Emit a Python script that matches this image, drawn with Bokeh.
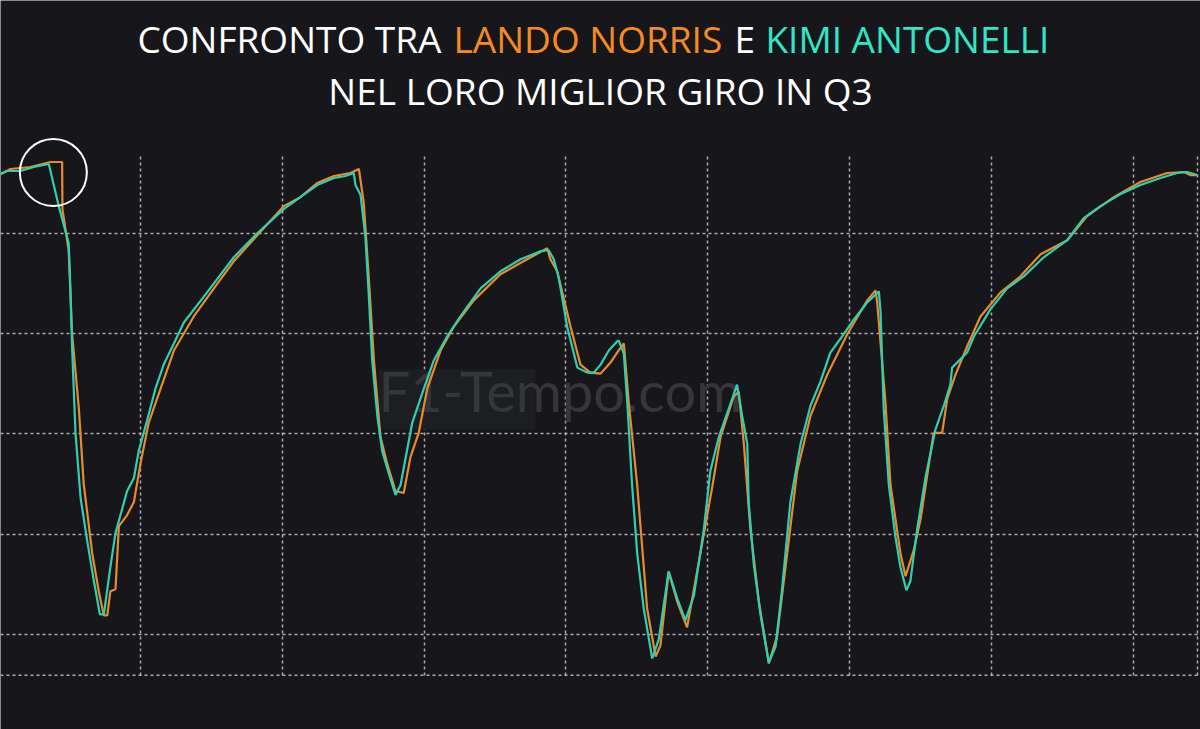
from bokeh.plotting import figure
from bokeh.models import Label, BoxAnnotation, Span, Range1d, FixedTicker
from bokeh.embed import file_html
from bokeh.resources import INLINE

# ---- data (distance in m, speed in km/h) ----
nor_dist = [7, 42, 112, 183, 224, 225, 247, 259, 283, 300, 330, 353, 371, 383, 394, 412, 424, 453, 477, 500,
            529, 571, 618, 688, 759, 829, 912, 1005, 1064, 1123, 1182, 1240, 1270, 1287, 1305, 1323, 1346, 1370,
            1399, 1428, 1452, 1481, 1511, 1558, 1605, 1675, 1769, 1863, 1934, 1945, 1969, 2016, 2051, 2086, 2122,
            2157, 2185, 2204, 2221, 2251, 2286, 2316, 2333, 2362, 2393, 2427, 2474, 2515, 2545, 2591, 2609, 2627,
            2650, 2680, 2715, 2744, 2780, 2815, 2862, 2921, 2991, 3062, 3091, 3097, 3126, 3144, 3179, 3197, 3226,
            3250, 3296, 3326, 3344, 3373, 3414, 3461, 3532, 3602, 3673, 3767, 3837, 3931, 4025, 4119, 4178, 4201, 4225]
nor_speed = [329.5, 332, 333, 335.5, 335.5, 312, 291.5, 250, 212.5, 175, 140.5, 121.5, 109.5, 109.5, 121.5, 122.5,
             154, 159.5, 166, 185, 205.5, 222.5, 241.5, 258.5, 272.5, 286, 299, 313.5, 318, 325, 328.5, 330, 332,
             315.5, 277.5, 236.5, 198.5, 185, 171.5, 170.5, 188.5, 200.5, 222.5, 241.5, 253.5, 266.5, 279.5, 287,
             292.5, 287, 281, 253.5, 234.5, 230.5, 230, 235.5, 241.5, 245, 216, 174.5, 113, 89, 94.5, 131, 116,
             103.5, 140.5, 173, 198.5, 218.5, 221, 195, 152.5, 116.5, 85.5, 99, 140.5, 181.5, 209, 229.5, 249.5,
             266.5, 271.5, 265.5, 216, 174.5, 140.5, 129, 142, 157.5, 200.5, 200.5, 217.5, 229.5, 243.5, 258.5,
             270.5, 278.5, 289.5, 296.5, 308.5, 318, 325.5, 330, 330.5, 329, 329]

ant_dist = [7, 30, 77, 124, 177, 212, 247, 253, 259, 271, 289, 312, 336, 357, 371, 394, 412, 453, 477, 494, 524,
            553, 582, 618, 653, 735, 829, 912, 1005, 1064, 1123, 1182, 1223, 1252, 1258, 1276, 1293, 1305, 1317,
            1335, 1352, 1376, 1399, 1417, 1458, 1499, 1534, 1581, 1628, 1699, 1769, 1840, 1910, 1939, 1957, 1975,
            2004, 2040, 2075, 2098, 2122, 2151, 2180, 2186, 2204, 2216, 2233, 2251, 2274, 2304, 2327, 2362, 2392,
            2421, 2451, 2486, 2509, 2539, 2574, 2603, 2621, 2639, 2644, 2662, 2686, 2715, 2739, 2762, 2791, 2827,
            2862, 2897, 2932, 2968, 3015, 3062, 3103, 3109, 3120, 3138, 3161, 3179, 3200, 3214, 3238, 3267, 3302,
            3332, 3355, 3361, 3414, 3438, 3496, 3555, 3614, 3684, 3767, 3825, 3884, 3955, 4025, 4096, 4154, 4190, 4225]
ant_speed = [329.5, 331, 331, 333, 334.5, 313.5, 295, 272.5, 243.5, 200.5, 168, 147, 126.5, 110, 110, 133.5,
             150.5, 171.5, 178, 191.5, 207, 222.5, 234.5, 245, 255.5, 270.5, 288, 300, 312, 318, 324, 327.5, 328.5,
             330, 324, 319, 298, 269, 236.5, 209, 191.5, 180, 169.5, 174.5, 205.5, 222.5, 236.5, 248.5, 258.5,
             272.5, 281, 287, 291, 291.5, 287, 277.5, 253.5, 233, 230.5, 230.5, 234.5, 241.5, 246, 246.5, 240, 216,
             174.5, 140.5, 113, 88, 97.5, 131.5, 118, 107, 119.5, 152.5, 181.5, 198.5, 212.5, 224.5, 209, 195, 166,
             135, 109.5, 86, 94, 123, 166, 195, 214, 226, 240.5, 247.5, 257, 265.5, 271, 260.5, 212.5, 174.5, 149,
             133.5, 122, 126.5, 152.5, 178, 202, 214, 224.5, 233, 240.5, 248.5, 262, 272.5, 278.5, 288, 296.5,
             307.5, 313.5, 319.5, 324, 327.5, 330, 330.5, 329]

highlight_dist = [193]
highlight_speed = [330.3]

# chart area (data units) and gridlines
speed_min, speed_max = 79.6, 339.8
dist_grid = [500, 1000, 1500, 2000, 2500, 3000, 3500, 4000, 4226]
speed_grid = [100, 150, 200, 250, 300]

title_parts = ["CONFRONTO TRA", "LANDO NORRIS", "E", "KIMI ANTONELLI"]
subtitle = "NEL LORO MIGLIOR GIRO IN Q3"
watermark = "F1-Tempo.com"

BG = "#17171b"
ORANGE_LINE = "#e98a2c"
TEAL_LINE = "#2fd0b1"
ORANGE_TXT = "#f58a22"
TEAL_TXT = "#2fe6c7"
GRID = "#c4c4c4"

p = figure(width=1200, height=729,
           x_range=Range1d(6.7, 4236.7), y_range=Range1d(52.6, 416.0),
           output_backend="svg", toolbar_location=None,
           background_fill_color=BG, border_fill_color=BG, outline_line_color=None,
           min_border=0)

p.xaxis.visible = False
p.yaxis.visible = False
p.xaxis.ticker = FixedTicker(ticks=dist_grid)
p.yaxis.ticker = FixedTicker(ticks=speed_grid)
for g in (p.xgrid, p.ygrid):
    g.grid_line_color = GRID
    g.grid_line_dash = "3 3"
    g.grid_line_width = 1.5
    g.grid_line_alpha = 0.85

fallback = False
try:
    p.xgrid.cross_bounds = (speed_min, speed_max)
except AttributeError:
    fallback = True
if fallback:
    p.xgrid.visible = False
    p.segment(x0=dist_grid, y0=[speed_min] * len(dist_grid), x1=dist_grid, y1=[speed_max] * len(dist_grid),
              line_color=GRID, line_dash="3 3", line_width=1.5, line_alpha=0.85)

p.add_layout(Span(location=speed_min, dimension="width", line_color=GRID,
                  line_dash="3 3", line_width=1.5, line_alpha=0.85))

# watermark
p.add_layout(BoxAnnotation(left=1339, right=1892, bottom=202.2, top=232.1,
                           fill_color="#1d1e22", fill_alpha=1.0, line_color=None, level="underlay"))
p.add_layout(Label(x=1339, y=221.5, text=watermark,
                   text_font="Lato", text_font_size="56px", text_color="#35363b",
                   text_baseline="alphabetic", level="underlay"))

p.line(nor_dist, nor_speed, line_color=ORANGE_LINE, line_width=2.2)
p.line(ant_dist, ant_speed, line_color=TEAL_LINE, line_width=2.2)

p.scatter(highlight_dist, highlight_speed, marker="circle", size=67,
          fill_color=None, line_color="white", line_width=2)

# title (two lines, coloured driver names)
tx = [489.6, 1603.5, 2594, 2703]
tc = ["white", ORANGE_TXT, "white", TEAL_TXT]
for t, x, c in zip(title_parts, tx, tc):
    p.add_layout(Label(x=x, y=397.0, text=t,
                       text_font="Open Sans", text_font_size="37px", text_color=c,
                       text_baseline="alphabetic", text_align="left"))
p.add_layout(Label(x=2121.7, y=371.3, text=subtitle,
                   text_font="Open Sans", text_font_size="37px", text_color="white",
                   text_baseline="alphabetic", text_align="center"))

open("out.html", "w").write(file_html(p, INLINE))
